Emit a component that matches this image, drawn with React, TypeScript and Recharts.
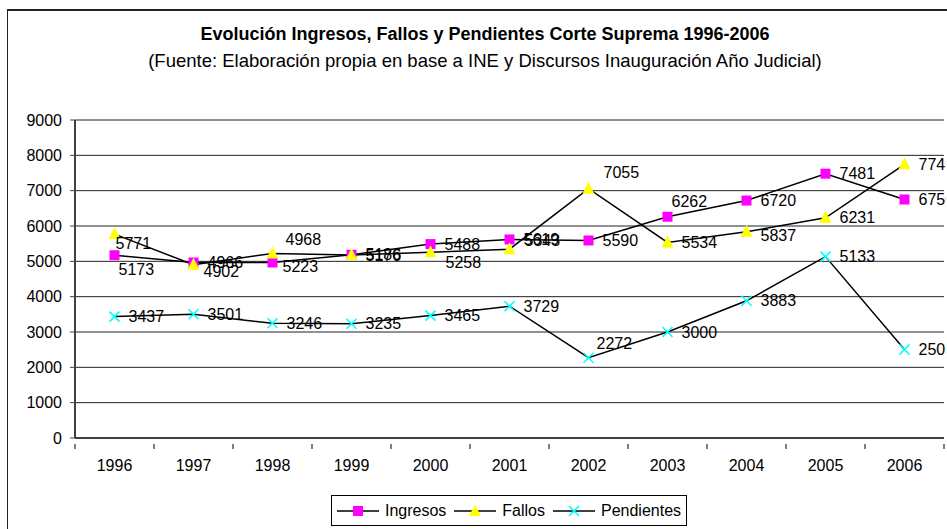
import { LineChart, Line, XAxis, YAxis, CartesianGrid, LabelList } from 'recharts';

const years = ['1996', '1997', '1998', '1999', '2000', '2001', '2002', '2003', '2004', '2005', '2006'];
const ingresos = [5173, 4966, 4968, 5186, 5488, 5619, 5590, 6262, 6720, 7481, 6750];
const fallos = [5771, 4902, 5223, 5176, 5258, 5343, 7055, 5534, 5837, 6231, 7745];
const pendientes = [3437, 3501, 3246, 3235, 3465, 3729, 2272, 3000, 3883, 5133, 2505];
const yTicks = [0, 1000, 2000, 3000, 4000, 5000, 6000, 7000, 8000, 9000];

const data = years.map((year, i) => ({
  year,
  ingresos: ingresos[i],
  fallos: fallos[i],
  pendientes: pendientes[i],
}));

// a few labels were moved by hand in the original, [dx, dy] from the point
const labelNudges: Record<string, Record<string, [number, number]>> = {
  ingresos: { '1996': [4, 14], '1998': [13, -23], '2003': [4, -15] },
  fallos: { '1996': [1, 9], '1997': [10, 7], '1998': [10, 13], '2000': [15, 10], '2001': [15, -9], '2002': [15, -16], '2004': [14, 4] },
  pendientes: { '2002': [8, -14] },
};

const FONT = '"Liberation Sans", Arial, sans-serif';

const Square = ({ cx, cy }: any) => <rect x={cx - 5} y={cy - 5} width={10} height={10} fill="#FF00FF" />;
const Triangle = ({ cx, cy }: any) => (
  <polygon points={`${cx},${cy - 7} ${cx + 6},${cy + 5} ${cx - 6},${cy + 5}`} fill="#FFFF00" />
);
const Cross = ({ cx, cy }: any) => (
  <g stroke="#00FFFF" strokeWidth={1.6}>
    <line x1={cx - 5} y1={cy - 5} x2={cx + 5} y2={cy + 5} />
    <line x1={cx - 5} y1={cy + 5} x2={cx + 5} y2={cy - 5} />
  </g>
);

const makeLabel = (series: string) => (props: any) => {
  const { x, y, value, index } = props;
  const [dx, dy] = labelNudges[series][years[index]] || [14, 0];
  return (
    <text x={x + dx} y={y + dy} fontSize={16} fill="#000" fontFamily={FONT} dominantBaseline="central">
      {value}
    </text>
  );
};

// excel style: tick marks sit between the categories
const YearTick = (props: any) => {
  const { x, y, payload, index, visibleTicksCount, width } = props;
  const step = width / visibleTicksCount;
  const axisY = y - 16;
  return (
    <g>
      <line x1={x - step / 2} y1={axisY} x2={x - step / 2} y2={axisY + 5} stroke="#555" strokeWidth={1.5} />
      {index === visibleTicksCount - 1 && (
        <line x1={x + step / 2} y1={axisY} x2={x + step / 2} y2={axisY + 5} stroke="#555" strokeWidth={1.5} />
      )}
      <text x={x} y={y} textAnchor="middle" dominantBaseline="hanging" fontSize={16} fill="#000" fontFamily={FONT}>
        {payload.value}
      </text>
    </g>
  );
};

const LegendIcon = ({ children }: { children: any }) => (
  <svg width={42} height={14} style={{ marginRight: 6 }}>
    <line x1={0} y1={7} x2={42} y2={7} stroke="#000" strokeWidth={1.5} />
    {children}
  </svg>
);

const App = () => {
  return (
    <div style={{ position: 'absolute', left: 0, top: 0, width: 947, height: 529, overflow: 'hidden', background: '#fff', fontFamily: FONT }}>
      <div style={{ position: 'absolute', left: 7, top: 9, width: 1200, height: 1200, borderTop: '2px solid #222', borderLeft: '1px solid #222' }} />
      <div style={{ position: 'absolute', left: 0, width: 970, top: 24, textAlign: 'center', fontSize: 18, fontWeight: 'bold', color: '#000' }}>
        Evolución Ingresos, Fallos y Pendientes Corte Suprema 1996-2006
      </div>
      <div style={{ position: 'absolute', left: 0, width: 970, top: 50, textAlign: 'center', fontSize: 18.5, color: '#000' }}>
        (Fuente: Elaboración propia en base a INE y Discursos Inauguración Año Judicial)
      </div>
      <div style={{ position: 'absolute', left: 0, top: 0, width: 946, height: 529, overflow: 'hidden' }}>
        <LineChart
          width={947}
          height={529}
          data={data}
          margin={{ top: 120, right: 3, left: 15, bottom: 61 }}
        >
          <CartesianGrid vertical={false} stroke="#222" strokeWidth={1} />
          <XAxis
            dataKey="year"
            height={30}
            padding={{ left: 39.5, right: 39.5 }}
            interval={0}
            tickLine={false}
            axisLine={{ stroke: '#404040', strokeWidth: 2 }}
            tickMargin={16}
            tick={<YearTick />}
          />
          <YAxis
            domain={[0, 9000]}
            ticks={yTicks}
            width={60}
            tickSize={5}
            tickMargin={8}
            interval={0}
            axisLine={{ stroke: '#404040', strokeWidth: 2 }}
            tickLine={{ stroke: '#404040' }}
            tick={{ fontSize: 16, fill: '#000', fontFamily: FONT }}
          />
          <YAxis
            yAxisId="right"
            orientation="right"
            domain={[0, 9000]}
            width={0}
            tick={false}
            tickLine={false}
            axisLine={{ stroke: '#808080', strokeWidth: 2 }}
          />
          <Line dataKey="ingresos" stroke="#000" strokeWidth={1.5} dot={<Square />} isAnimationActive={false}>
            <LabelList dataKey="ingresos" content={makeLabel('ingresos')} />
          </Line>
          <Line dataKey="fallos" stroke="#000" strokeWidth={1.5} dot={<Triangle />} isAnimationActive={false}>
            <LabelList dataKey="fallos" content={makeLabel('fallos')} />
          </Line>
          <Line dataKey="pendientes" stroke="#000" strokeWidth={1.5} dot={<Cross />} isAnimationActive={false}>
            <LabelList dataKey="pendientes" content={makeLabel('pendientes')} />
          </Line>
        </LineChart>
      </div>
      <div
        style={{
          position: 'absolute', left: 331, top: 495, width: 356, height: 31, border: '1px solid #000',
          display: 'flex', alignItems: 'center', justifyContent: 'center', fontSize: 16, color: '#000', boxSizing: 'border-box',
        }}
      >
        <LegendIcon><rect x={16} y={2} width={10} height={10} fill="#FF00FF" /></LegendIcon>
        <span style={{ marginRight: 8 }}>Ingresos</span>
        <LegendIcon><polygon points="21,1 27,12 15,12" fill="#FFFF00" /></LegendIcon>
        <span style={{ marginRight: 8 }}>Fallos</span>
        <LegendIcon>
          <g stroke="#00FFFF" strokeWidth={1.6}>
            <line x1={16} y1={2} x2={26} y2={12} />
            <line x1={16} y1={12} x2={26} y2={2} />
          </g>
        </LegendIcon>
        <span>Pendientes</span>
      </div>
    </div>
  );
};

export default App;
